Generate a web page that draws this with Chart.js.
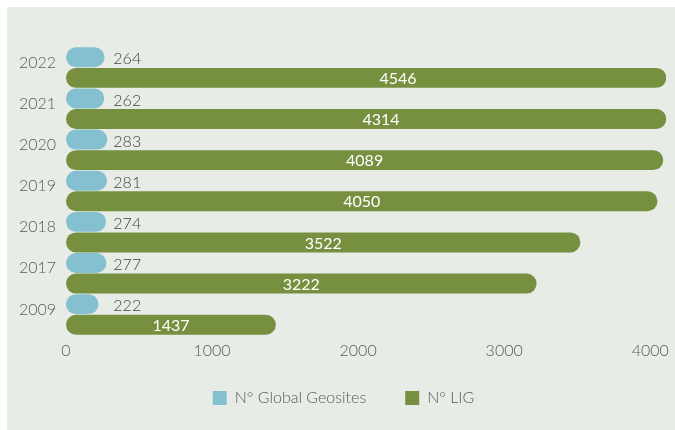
<!DOCTYPE html>
<html>
<head>
<meta charset="utf-8">
<script src="https://cdn.jsdelivr.net/npm/chart.js@4/dist/chart.umd.min.js"></script>
<style>
  html, body { margin: 0; padding: 0; background: #ffffff; }
  canvas { display: block; }
</style>
</head>
<body>
<canvas id="c" width="675" height="430"></canvas>
<script>
const years = ['2022', '2021', '2020', '2019', '2018', '2017', '2009'];
const geosites = [264, 262, 283, 281, 274, 277, 222];
const lig = [4546, 4314, 4089, 4050, 3522, 3222, 1437];
const seriesNames = ['N\u00B0 Global Geosites', 'N\u00B0 LIG'];
const xTicks = [0, 1000, 2000, 3000, 4000];
const xMax = 4110;

const FONT = 'Lato, "Open Sans", sans-serif';
const WEIGHT = 300;
const TEXT = '#5a5a5a';

const panelBg = {
  id: 'panelBg',
  beforeDraw(chart) {
    const ctx = chart.ctx;
    ctx.save();
    ctx.fillStyle = '#e7ece6';
    ctx.fillRect(7, 7, chart.width - 7, chart.height - 7);
    ctx.restore();
  }
};

// move the legend block up a little so it sits where the reference has it
const legendShift = {
  id: 'legendShift',
  afterLayout(chart) {
    const lg = chart.legend;
    if (lg) { lg.top -= 10; lg.bottom -= 10; }
  }
};

const valueLabels = {
  id: 'valueLabels',
  afterDatasetsDraw(chart) {
    const ctx = chart.ctx;
    const xs = chart.scales.x;
    ctx.save();
    ctx.textBaseline = 'middle';
    const m0 = chart.getDatasetMeta(0);
    const anchor = xs.getPixelForValue(Math.max(...geosites)) + 6;
    ctx.font = '300 16px ' + FONT;
    m0.data.forEach((bar, i) => {
      ctx.fillStyle = '#444444';
      ctx.textAlign = 'left';
      ctx.fillText(String(geosites[i]), anchor, bar.y + 2);
    });
    const m1 = chart.getDatasetMeta(1);
    ctx.font = '400 16px ' + FONT;
    m1.data.forEach((bar, i) => {
      ctx.fillStyle = '#ffffff';
      ctx.textAlign = 'center';
      ctx.fillText(String(lig[i]), xs.getPixelForValue(lig[i] / 2), bar.y + 1);
    });
    ctx.restore();
  }
};

new Chart(document.getElementById('c'), {
  type: 'bar',
  data: {
    labels: years,
    datasets: [
      {
        label: seriesNames[0],
        data: geosites,
        backgroundColor: '#84c0d0',
        borderWidth: 0,
        borderRadius: 10,
        borderSkipped: false,
        categoryPercentage: 1,
        barPercentage: 0.97
      },
      {
        label: seriesNames[1],
        data: lig.map(v => Math.min(v, xMax)),
        backgroundColor: '#76903f',
        borderWidth: 0,
        borderRadius: 10,
        borderSkipped: false,
        categoryPercentage: 1,
        barPercentage: 0.97
      }
    ]
  },
  options: {
    indexAxis: 'y',
    responsive: false,
    animation: false,
    layout: { padding: { left: 20, top: 47, right: 8, bottom: 4 } },
    scales: {
      x: {
        min: 0,
        max: xMax,
        grid: { display: false, drawTicks: false },
        border: { display: false },
        afterBuildTicks(scale) { scale.ticks = xTicks.map(v => ({ value: v })); },
        ticks: {
          padding: 6,
          maxRotation: 0,
          autoSkip: false,
          callback: v => String(v),
          font: { family: FONT, size: 16, weight: WEIGHT },
          color: TEXT
        },
        afterFit(scale) { scale.height = 26; }
      },
      y: {
        grid: { display: false, drawTicks: false },
        border: { display: false },
        ticks: {
          padding: 10,
          labelOffset: -5,
          font: { family: FONT, size: 16, weight: WEIGHT },
          color: TEXT
        },
        afterFit(scale) { scale.width = 46; }
      }
    },
    plugins: {
      legend: {
        position: 'bottom',
        labels: {
          boxWidth: 14,
          boxHeight: 14,
          padding: 39,
          font: { family: FONT, size: 16, weight: WEIGHT },
          color: TEXT
        }
      },
      tooltip: { enabled: false }
    }
  },
  plugins: [panelBg, legendShift, valueLabels]
});
</script>
</body>
</html>
